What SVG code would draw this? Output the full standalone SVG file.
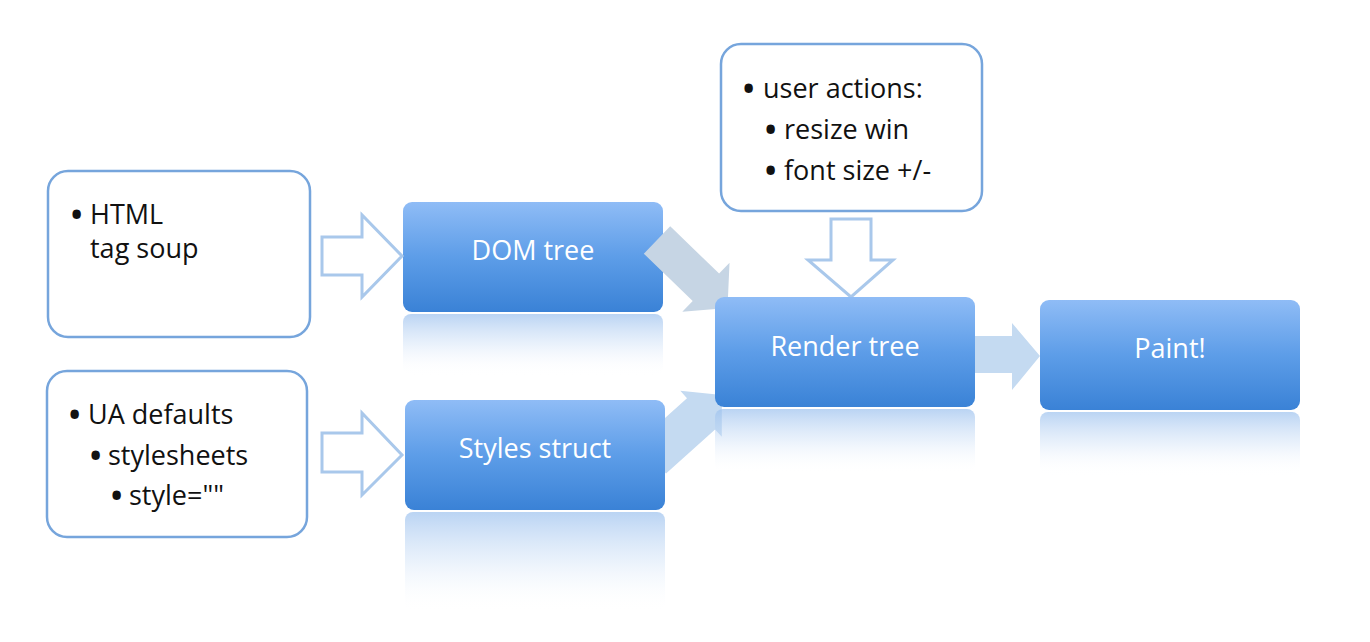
<svg xmlns="http://www.w3.org/2000/svg" width="1370" height="642" viewBox="0 0 1370 642">
<defs>
<linearGradient id="boxg" x1="0" y1="0" x2="0" y2="1">
<stop offset="0" stop-color="#8fbcf6"/>
<stop offset="0.5" stop-color="#5d9de8"/>
<stop offset="1" stop-color="#3a82d6"/>
</linearGradient>
<linearGradient id="refl" x1="0" y1="0" x2="0" y2="1">
<stop offset="0" stop-color="#9cc1ee" stop-opacity="0.7"/>
<stop offset="0.5" stop-color="#c4daf5" stop-opacity="0.35"/>
<stop offset="1" stop-color="#ffffff" stop-opacity="0"/>
</linearGradient>
<clipPath id="rightOfStyles"><rect x="665" y="350" width="120" height="160"/></clipPath>
<style>
.note{fill:#ffffff;stroke:#76a5dc;stroke-width:2.5}
.ntext{font-family:"Open Sans","Liberation Sans",sans-serif;font-size:27px;fill:#111111}
.bul{font-family:"Open Sans","Liberation Sans",sans-serif;font-size:30px;font-weight:bold;fill:#111111}
.box{fill:url(#boxg)}
.refl{fill:url(#refl)}
.btext{font-family:"Open Sans","Liberation Sans",sans-serif;font-size:27px;fill:#ffffff;text-anchor:middle}
.hollow{fill:#ffffff;stroke:#a9c8eb;stroke-width:3;stroke-linejoin:miter}
.thick1{fill:#c6d5e4}
.thick2{fill:#c4daf1}
</style>
</defs>
<rect width="1370" height="642" fill="#ffffff"/>

<g id="html">
<rect class="note" x="48" y="171" width="262" height="166" rx="20"/>
<text class="bul" x="71" y="225">•</text>
<text class="ntext" x="90" y="224">HTML</text>
<text class="ntext" x="90" y="258">tag soup</text>
</g>

<g id="ua">
<rect class="note" x="47" y="371" width="260" height="166" rx="20"/>
<text class="bul" x="69" y="425">•</text>
<text class="ntext" x="88" y="424">UA defaults</text>
<text class="bul" x="90" y="466">•</text>
<text class="ntext" x="108" y="465">stylesheets</text>
<text class="bul" x="111" y="506">•</text>
<text class="ntext" x="129" y="505">style=""</text>
</g>

<g id="user">
<rect class="note" x="721" y="44" width="261" height="167" rx="20"/>
<text class="bul" x="743" y="99">•</text>
<text class="ntext" x="763" y="98">user actions:</text>
<text class="bul" x="765" y="140">•</text>
<text class="ntext" x="784" y="139">resize win</text>
<text class="bul" x="765" y="181">•</text>
<text class="ntext" x="784" y="180">font size +/-</text>
</g>

<g id="dom">
<rect class="refl" x="403" y="314" width="260" height="62" rx="8"/>
<rect class="box" x="403" y="202" width="260" height="110" rx="9"/>
<text class="btext" x="533" y="260">DOM tree</text>
</g>

<g id="styles">
<rect class="refl" x="405" y="512" width="260" height="100" rx="8"/>
<rect class="box" x="405" y="400" width="260" height="110" rx="9"/>
<text class="btext" x="535" y="458">Styles struct</text>
</g>

<g id="connectors">
<polygon class="hollow" points="322,237 362,237 362,215 402,256 362,297 362,275 322,275"/>
<polygon class="hollow" points="322,433 362,433 362,413 402,455 362,495 362,472 322,472"/>
<polygon class="hollow" points="831,219 871,219 871,260 893,260 851,297 808,260 831,260"/>
<polygon class="thick1" transform="translate(657,240) rotate(44)" points="0,-19 68,-19 68,-34 98,0 68,34 68,19 0,19"/>
<g clip-path="url(#rightOfStyles)">
<polygon class="thick2" transform="translate(652,458) rotate(-42)" points="0,-21 66,-21 66,-31 94,0 66,31 66,21 0,21"/>
</g>
<polygon class="thick2" points="975,336 1012,336 1012,323 1040,356 1012,390 1012,373 975,373"/>
</g>

<g id="render">
<rect class="refl" x="715" y="409" width="260" height="64" rx="8"/>
<rect class="box" x="715" y="297" width="260" height="110" rx="9"/>
<text class="btext" x="845" y="356">Render tree</text>
</g>

<g id="paint">
<rect class="refl" x="1040" y="412" width="260" height="64" rx="8"/>
<rect class="box" x="1040" y="300" width="260" height="110" rx="9"/>
<text class="btext" x="1170" y="358">Paint!</text>
</g>
</svg>
